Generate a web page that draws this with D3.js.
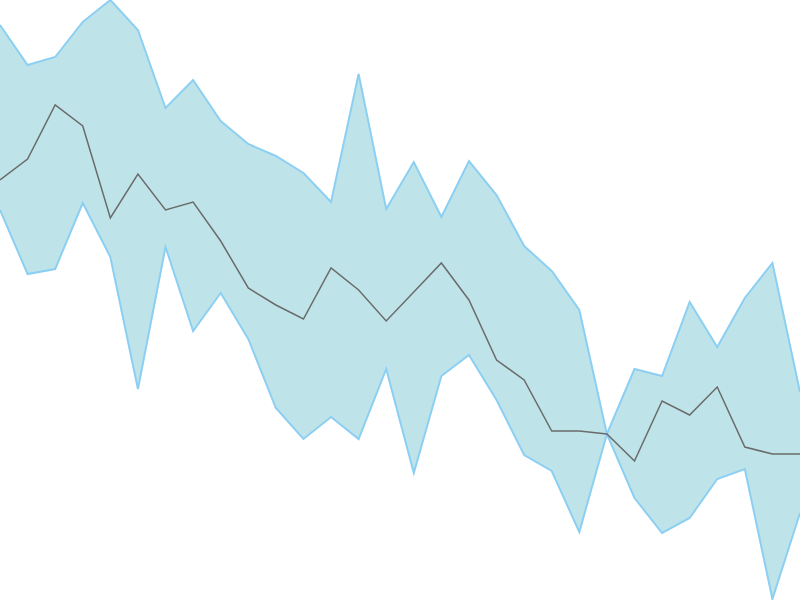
<!DOCTYPE html>
<html>
<head>
<meta charset="utf-8">
<script src="https://cdn.jsdelivr.net/npm/d3@7"></script>
<style>
  html, body { margin: 0; padding: 0; background: #fff; }
  svg { display: block; }
</style>
</head>
<body>
<div id="chart"></div>
<script>
// Valores (unidades relativas, 0 = abajo)
const upper = [575, 535, 543, 578, 600, 570, 492, 520, 479, 456, 444, 427, 398, 526, 391, 438, 383, 439, 405, 354, 329, 290, 166, 231, 224, 298, 253, 302, 337, 208];
const middle = [420, 441, 495, 474, 382, 426, 390, 398, 359, 312, 295, 281, 332, 310, 279, 308, 337, 300, 240, 220, 169, 169, 166, 139, 199, 185, 213, 153, 146, 146];
const lower = [390, 326, 331, 397, 343, 211, 353, 269, 307, 261, 192, 161, 183, 161, 231, 127, 224, 245, 200, 145, 129, 68, 166, 102, 67, 82, 121, 131, 1, 87];

const width = 800;
const height = 600;

const svg = d3.select("#chart")
    .append("svg")
    .attr("width", width)
    .attr("height", height);

// Escalas
const x = d3.scaleLinear()
    .domain([0, upper.length - 1])
    .range([0, width]);

const y = d3.scaleLinear()
    .domain([0, 600])
    .range([height, 0]);

const data = upper.map((u, i) => ({ i, u, m: middle[i], l: lower[i] }));

// Banda
const area = d3.area()
    .x(d => x(d.i))
    .y0(d => y(d.l))
    .y1(d => y(d.u));

svg.append("path")
    .datum(data)
    .attr("d", area)
    .attr("fill", "#bee4e9");

// Bordes de la banda
["u", "l"].forEach(k => {
    svg.append("path")
        .datum(data)
        .attr("d", d3.line().x(d => x(d.i)).y(d => y(d[k])))
        .attr("fill", "none")
        .attr("stroke", "#8ccff2")
        .attr("stroke-width", 2);
});

// Línea central
svg.append("path")
    .datum(data)
    .attr("d", d3.line().x(d => x(d.i)).y(d => y(d.m)))
    .attr("fill", "none")
    .attr("stroke", "#6b6b6b")
    .attr("stroke-width", 1.5);
</script>
</body>
</html>
